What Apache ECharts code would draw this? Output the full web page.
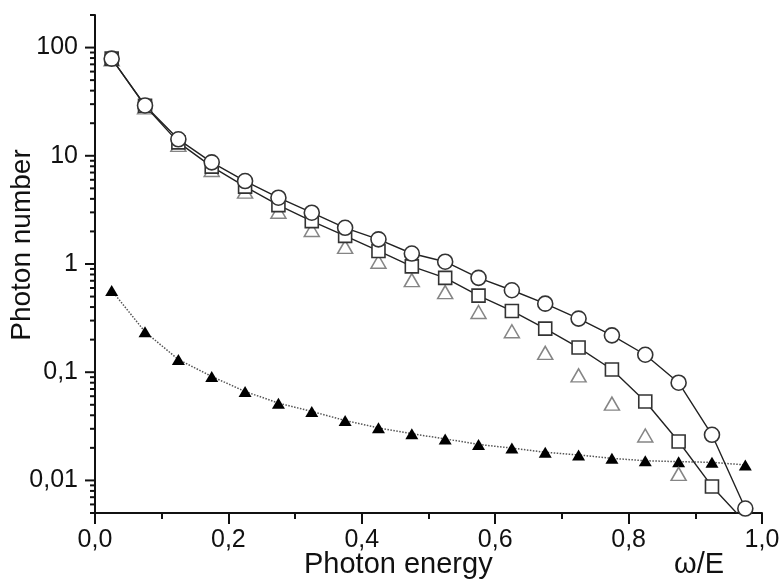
<!DOCTYPE html>
<html>
<head>
<meta charset="utf-8">
<script src="https://cdn.jsdelivr.net/npm/echarts@6/dist/echarts.min.js"></script>
<style>
  html, body { margin: 0; padding: 0; background: #fff; }
  #main { width: 782px; height: 582px; }
</style>
</head>
<body>
<div id="main"></div>
<script>
// photon energy (omega/E)
const energy = [0.025, 0.075, 0.125, 0.175, 0.225, 0.275, 0.325, 0.375, 0.425, 0.475,
                0.525, 0.575, 0.625, 0.675, 0.725, 0.775, 0.825, 0.875, 0.925, 0.975];
// open circles
const circleVals = [79, 29.2, 14.2, 8.7, 5.84, 4.1, 2.98, 2.16, 1.69, 1.25,
                    1.05, 0.745, 0.572, 0.43, 0.313, 0.219, 0.145, 0.08, 0.0264, 0.0055];
// open squares
const squareVals = [79, 29, 13.3, 7.94, 5.19, 3.5, 2.49, 1.82, 1.32, 0.95,
                    0.745, 0.51, 0.368, 0.253, 0.169, 0.106, 0.0537, 0.0229, 0.0088, 0.0041];
// open triangles (no line), last two are below the axis
const openTriVals = [78, 28, 12.6, 7.4, 4.66, 3.04, 2.06, 1.44, 1.05, 0.71,
                     0.55, 0.36, 0.239, 0.151, 0.0934, 0.0512, 0.026, 0.0115, null, null];
// filled triangles, dotted line
const filledTriVals = [0.57, 0.236, 0.131, 0.0914, 0.0664, 0.0518, 0.0434, 0.0358, 0.0306, 0.027,
                       0.0242, 0.0215, 0.0199, 0.0182, 0.0172, 0.016, 0.0152, 0.0149, 0.0147, 0.0139];

const yMajorTicks = [0.01, 0.1, 1, 10, 100];
const yMinorTicks = [0.005, 0.006, 0.007, 0.008, 0.009,
                     0.02, 0.03, 0.04, 0.05, 0.06, 0.07, 0.08, 0.09,
                     0.2, 0.3, 0.4, 0.5, 0.6, 0.7, 0.8, 0.9,
                     2, 3, 4, 5, 6, 7, 8, 9,
                     20, 30, 40, 50, 60, 70, 80, 90, 200];

const FONT = "'Liberation Sans', Arial, sans-serif";

function pairs(vals) {
  const out = [];
  vals.forEach((v, i) => { if (v != null) out.push([energy[i], v]); });
  return out;
}

const chart = echarts.init(document.getElementById("main"));

const tickData = yMajorTicks.map(v => [0, v, 10]).concat(yMinorTicks.map(v => [0, v, 5]));

const option = {
  animation: false,
  backgroundColor: "#fff",
  grid: { left: 95, right: 20, top: 15, bottom: 69, outerBoundsMode: "none" },
  xAxis: {
    type: "value",
    min: 0,
    max: 1,
    interval: 0.2,
    axisLine: { lineStyle: { color: "#111", width: 2 } },
    axisTick: { length: 11, lineStyle: { color: "#111", width: 2 } },
    minorTick: { show: true, splitNumber: 2, length: 6, lineStyle: { color: "#111", width: 2 } },
    splitLine: { show: false },
    minorSplitLine: { show: false },
    axisLabel: {
      margin: 15,
      color: "#111",
      fontSize: 25,
      fontFamily: FONT,
      formatter: v => v.toFixed(1).replace(".", ",")
    }
  },
  yAxis: {
    type: "log",
    logBase: 10,
    min: 0.005,
    max: 200,
    axisLine: { show: true, lineStyle: { color: "#111", width: 2 } },
    axisTick: { show: false },
    splitLine: { show: false },
    axisLabel: {
      margin: 17,
      color: "#111",
      fontSize: 25,
      fontFamily: FONT,
      formatter: function (v) {
        const e = Math.log10(v);
        if (Math.abs(e - Math.round(e)) > 1e-6) return "";
        return String(+v.toPrecision(6)).replace(".", ",");
      }
    }
  },
  series: [
    {
      name: "ticks",
      type: "custom",
      clip: false,
      silent: true,
      z: 5,
      encode: { x: 0, y: 1 },
      data: tickData,
      renderItem: function (params, api) {
        const p = api.coord([0, api.value(1)]);
        const len = api.value(2);
        return {
          type: "line",
          shape: { x1: p[0] - len, y1: p[1], x2: p[0], y2: p[1] },
          style: { stroke: "#111", lineWidth: 2 }
        };
      }
    },
    {
      name: "filled triangles",
      type: "line",
      data: pairs(filledTriVals),
      symbol: "triangle",
      symbolSize: [13, 11],
      showAllSymbol: true,
      lineStyle: { color: "#555", width: 1.5, type: "dotted" },
      itemStyle: { color: "#000", borderWidth: 0 },
      z: 3
    },
    {
      name: "open triangles",
      type: "scatter",
      data: pairs(openTriVals),
      symbol: "triangle",
      symbolSize: [15, 13],
      itemStyle: { color: "#fff", borderColor: "#666", borderWidth: 1.5 },
      z: 3
    },
    {
      name: "squares",
      type: "line",
      data: pairs(squareVals),
      symbol: "rect",
      symbolSize: 13,
      showAllSymbol: true,
      lineStyle: { color: "#222", width: 1.4 },
      itemStyle: { color: "#fff", borderColor: "#333", borderWidth: 1.6 },
      z: 4
    },
    {
      name: "circles",
      type: "line",
      data: pairs(circleVals),
      symbol: "circle",
      symbolSize: 15,
      showAllSymbol: true,
      lineStyle: { color: "#222", width: 1.4 },
      itemStyle: { color: "#fff", borderColor: "#333", borderWidth: 1.6 },
      z: 4
    }
  ],
  graphic: [
    {
      type: "text",
      left: 304,
      top: 550,
      style: { text: "Photon energy", font: "29px " + FONT, fill: "#111" }
    },
    {
      type: "text",
      left: 674,
      top: 550,
      style: { text: "ω/E", font: "29px " + FONT, fill: "#111" }
    },
    {
      type: "text",
      x: 22,
      y: 245,
      rotation: Math.PI / 2,
      style: { text: "Photon number", font: "28px " + FONT, fill: "#111", align: "center", verticalAlign: "middle" }
    }
  ]
};

chart.setOption(option);
</script>
</body>
</html>
